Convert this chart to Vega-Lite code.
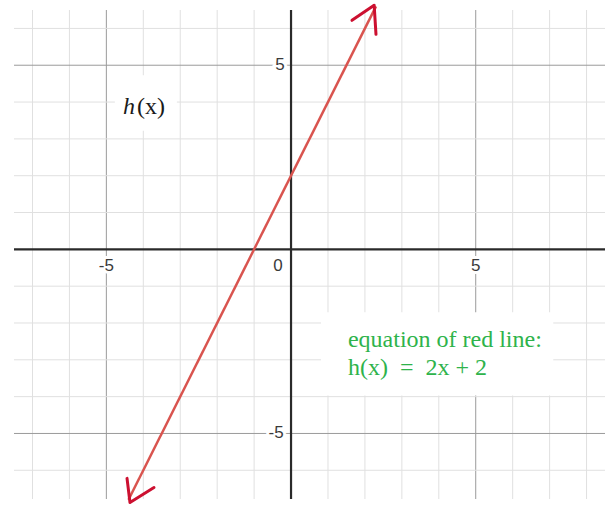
{
  "$schema": "https://vega.github.io/schema/vega-lite/v6.json",
  "width": 591,
  "height": 489,
  "autosize": "none",
  "padding": {"left": 14, "top": 10, "right": 4, "bottom": 9},
  "background": "white",
  "config": {"view": {"stroke": null}},
  "datasets": {
    "one": [{}],
    "redline": [{"x": -4.4, "y": -6.8}, {"x": 2.3, "y": 6.6}],
    "gridx": [{"v": -7}, {"v": -6}, {"v": -5}, {"v": -4}, {"v": -3}, {"v": -2}, {"v": -1}, {"v": 1}, {"v": 2}, {"v": 3}, {"v": 4}, {"v": 5}, {"v": 6}, {"v": 7}, {"v": 8}],
    "gridy": [{"v": -6}, {"v": -5}, {"v": -4}, {"v": -3}, {"v": -2}, {"v": -1}, {"v": 1}, {"v": 2}, {"v": 3}, {"v": 4}, {"v": 5}, {"v": 6}],
    "arrows": [
      {"arrow": "top", "ord": 1, "x": 1.65, "y": 6.22},
      {"arrow": "top", "ord": 2, "x": 2.25, "y": 6.63},
      {"arrow": "top", "ord": 3, "x": 2.3, "y": 5.84},
      {"arrow": "bottom", "ord": 1, "x": -4.44, "y": -6.22},
      {"arrow": "bottom", "ord": 2, "x": -4.36, "y": -6.875},
      {"arrow": "bottom", "ord": 3, "x": -3.71, "y": -6.47}
    ],
    "xlabels": [
      {"x": -5, "y": -0.46, "t": "-5"},
      {"x": -0.35, "y": -0.46, "t": "0"},
      {"x": 5, "y": -0.46, "t": "5"}
    ],
    "ylabels": [
      {"x": -0.17, "y": 5, "t": "5"},
      {"x": -0.2, "y": -5, "t": "-5"}
    ]
  },
  "layer": [
    {
      "data": {"name": "gridx"},
      "mark": {"type": "rule", "strokeWidth": 1},
      "encoding": {
        "x": {
          "field": "v", "type": "quantitative",
          "scale": {"domain": [-7.5, 8.5], "nice": false, "zero": false},
          "axis": null
        },
        "color": {"condition": {"test": "datum.v % 5 === 0", "value": "#9a9a9a"}, "value": "#e0e0e0"}
      }
    },
    {
      "data": {"name": "gridy"},
      "mark": {"type": "rule", "strokeWidth": 1},
      "encoding": {
        "y": {
          "field": "v", "type": "quantitative",
          "scale": {"domain": [-6.78, 6.5], "nice": false, "zero": false},
          "axis": null
        },
        "color": {"condition": {"test": "datum.v % 5 === 0", "value": "#9a9a9a"}, "value": "#e0e0e0"}
      }
    },
    {
      "data": {"name": "one"},
      "mark": {"type": "rect", "fill": "white"},
      "encoding": {
        "x": {"datum": -4.77, "type": "quantitative"},
        "x2": {"datum": -3.09},
        "y": {"datum": 4.73, "type": "quantitative"},
        "y2": {"datum": 3.22}
      }
    },
    {
      "data": {"name": "one"},
      "mark": {"type": "rect", "fill": "white"},
      "encoding": {
        "x": {"datum": 0.81, "type": "quantitative"},
        "x2": {"datum": 7.1},
        "y": {"datum": -1.71, "type": "quantitative"},
        "y2": {"datum": -3.97}
      }
    },
    {
      "data": {"name": "xlabels"},
      "mark": {"type": "text", "align": "center", "baseline": "middle", "font": "Liberation Sans", "fontSize": 17, "color": "white", "stroke": "white", "strokeWidth": 6},
      "encoding": {
        "x": {"field": "x", "type": "quantitative"},
        "y": {"field": "y", "type": "quantitative"},
        "text": {"field": "t"}
      }
    },
    {
      "data": {"name": "ylabels"},
      "mark": {"type": "text", "align": "right", "baseline": "middle", "font": "Liberation Sans", "fontSize": 17, "color": "white", "stroke": "white", "strokeWidth": 6},
      "encoding": {
        "x": {"field": "x", "type": "quantitative"},
        "y": {"field": "y", "type": "quantitative"},
        "text": {"field": "t"}
      }
    },
    {
      "data": {"name": "one"},
      "mark": {"type": "rule", "color": "#2a2a2a", "strokeWidth": 2.2},
      "encoding": {"x": {"datum": 0, "type": "quantitative"}}
    },
    {
      "data": {"name": "one"},
      "mark": {"type": "rule", "color": "#2a2a2a", "strokeWidth": 2.2},
      "encoding": {"y": {"datum": 0, "type": "quantitative"}}
    },
    {
      "data": {"name": "xlabels"},
      "mark": {"type": "text", "align": "center", "baseline": "middle", "font": "Liberation Sans", "fontSize": 17, "color": "#3a3a3a"},
      "encoding": {
        "x": {"field": "x", "type": "quantitative"},
        "y": {"field": "y", "type": "quantitative"},
        "text": {"field": "t"}
      }
    },
    {
      "data": {"name": "ylabels"},
      "mark": {"type": "text", "align": "right", "baseline": "middle", "font": "Liberation Sans", "fontSize": 17, "color": "#3a3a3a"},
      "encoding": {
        "x": {"field": "x", "type": "quantitative"},
        "y": {"field": "y", "type": "quantitative"},
        "text": {"field": "t"}
      }
    },
    {
      "data": {"name": "redline"},
      "mark": {"type": "line", "color": "#d9544f", "strokeWidth": 2.5},
      "encoding": {
        "x": {"field": "x", "type": "quantitative"},
        "y": {"field": "y", "type": "quantitative"}
      }
    },
    {
      "data": {"name": "arrows"},
      "mark": {"type": "line", "color": "#cc1030", "strokeWidth": 3, "strokeCap": "round", "strokeJoin": "round"},
      "encoding": {
        "x": {"field": "x", "type": "quantitative"},
        "y": {"field": "y", "type": "quantitative"},
        "detail": {"field": "arrow"},
        "order": {"field": "ord"}
      }
    },
    {
      "data": {"name": "one"},
      "mark": {"type": "text", "text": "h", "align": "left", "baseline": "alphabetic", "font": "Liberation Serif", "fontStyle": "italic", "fontSize": 24, "color": "#1a1a1a"},
      "encoding": {
        "x": {"datum": -4.55, "type": "quantitative"},
        "y": {"datum": 3.67, "type": "quantitative"}
      }
    },
    {
      "data": {"name": "one"},
      "mark": {"type": "text", "text": "(x)", "align": "left", "baseline": "alphabetic", "font": "Liberation Serif", "fontSize": 24, "color": "#1a1a1a"},
      "encoding": {
        "x": {"datum": -4.17, "type": "quantitative"},
        "y": {"datum": 3.67, "type": "quantitative"}
      }
    },
    {
      "data": {"name": "one"},
      "mark": {"type": "text", "text": "equation of red line:", "align": "left", "baseline": "alphabetic", "font": "Liberation Serif", "fontSize": 24, "color": "#2eb34b"},
      "encoding": {
        "x": {"datum": 1.54, "type": "quantitative"},
        "y": {"datum": -2.66, "type": "quantitative"}
      }
    },
    {
      "data": {"name": "one"},
      "mark": {"type": "text", "text": "h(x)\u00a0\u00a0=\u00a0\u00a02x + 2", "align": "left", "baseline": "alphabetic", "font": "Liberation Serif", "fontSize": 24, "color": "#2eb34b"},
      "encoding": {
        "x": {"datum": 1.54, "type": "quantitative"},
        "y": {"datum": -3.42, "type": "quantitative"}
      }
    }
  ]
}
